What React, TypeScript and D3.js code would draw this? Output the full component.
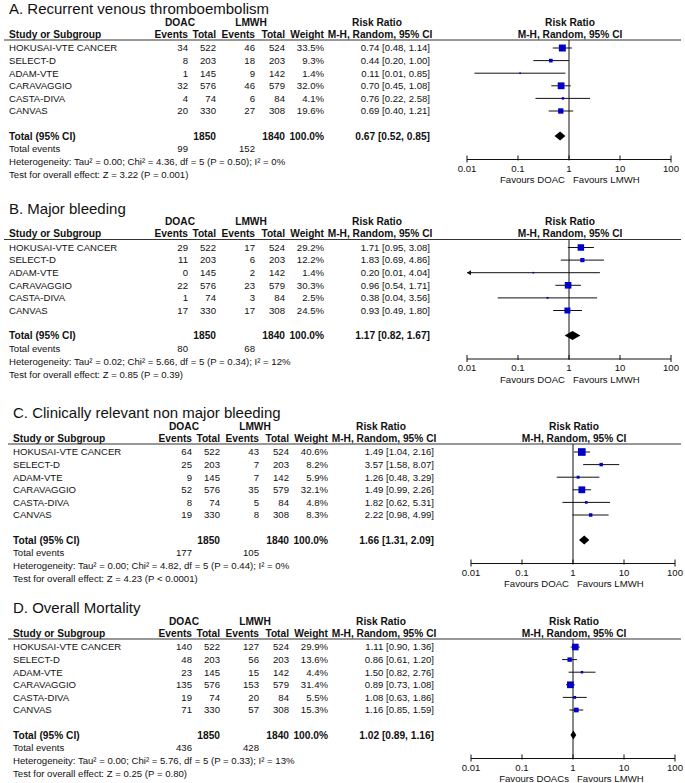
import React, { useRef, useEffect } from "react";
import * as d3 from "d3";

// shared study info
const studies = ["HOKUSAI-VTE CANCER", "SELECT-D", "ADAM-VTE", "CARAVAGGIO", "CASTA-DIVA", "CANVAS"];
const doacTotals = [522, 203, 145, 576, 74, 330];
const lmwhTotals = [524, 203, 142, 579, 84, 308];
const axisTicks = [0.01, 0.1, 1, 10, 100];
const totalWeightLabel = "100.0%";

// A. Recurrent VTE
const vteDoacEvents = [34, 8, 1, 32, 4, 20];
const vteLmwhEvents = [46, 18, 9, 46, 6, 27];
const vteWeights = [33.5, 9.3, 1.4, 32.0, 4.1, 19.6];
const vteRR = [0.74, 0.44, 0.11, 0.7, 0.76, 0.69];
const vteLo = [0.48, 0.2, 0.014, 0.45, 0.22, 0.4];
const vteHi = [1.14, 1.0, 0.85, 1.08, 2.58, 1.21];
const vtePooled = [0.67, 0.52, 0.85];
const vteEventTotals = [99, 152];

// B. Major bleeding
const mbDoacEvents = [29, 11, 0, 22, 1, 17];
const mbLmwhEvents = [17, 6, 2, 23, 3, 17];
const mbWeights = [29.2, 12.2, 1.4, 30.3, 2.5, 24.5];
const mbRR = [1.71, 1.83, 0.2, 0.96, 0.38, 0.93];
const mbLo = [0.95, 0.69, 0.0095, 0.54, 0.04, 0.49];
const mbHi = [3.08, 4.86, 4.04, 1.71, 3.56, 1.8];
const mbPooled = [1.17, 0.82, 1.67];
const mbEventTotals = [80, 68];

// C. CRNM bleeding
const crnmDoacEvents = [64, 25, 9, 52, 8, 19];
const crnmLmwhEvents = [43, 7, 7, 35, 5, 8];
const crnmWeights = [40.6, 8.2, 5.9, 32.1, 4.8, 8.3];
const crnmRR = [1.49, 3.57, 1.26, 1.49, 1.82, 2.22];
const crnmLo = [1.04, 1.58, 0.48, 0.99, 0.62, 0.98];
const crnmHi = [2.16, 8.07, 3.29, 2.26, 5.31, 4.99];
const crnmPooled = [1.66, 1.31, 2.09];
const crnmEventTotals = [177, 105];

// D. Overall mortality
const mortDoacEvents = [140, 48, 23, 135, 19, 71];
const mortLmwhEvents = [127, 56, 15, 153, 20, 57];
const mortWeights = [29.9, 13.6, 4.4, 31.4, 5.5, 15.3];
const mortRR = [1.11, 0.86, 1.5, 0.89, 1.08, 1.16];
const mortLo = [0.9, 0.61, 0.82, 0.73, 0.63, 0.85];
const mortHi = [1.36, 1.2, 2.76, 1.08, 1.86, 1.59];
const mortPooled = [1.02, 0.89, 1.16];
const mortEventTotals = [436, 428];

interface PanelSpec {
  title: string;
  doacEvents: number[];
  lmwhEvents: number[];
  weights: number[];
  rr: number[];
  lo: number[];
  hi: number[];
  pooled: number[];
  eventTotals: number[];
  heterogeneity: string;
  overall: string;
  favoursLeft: string;
  dx: number;
  dy: number;
}

const panels: PanelSpec[] = [
  {
    title: "A. Recurrent venous thromboembolism",
    doacEvents: vteDoacEvents, lmwhEvents: vteLmwhEvents, weights: vteWeights,
    rr: vteRR, lo: vteLo, hi: vteHi, pooled: vtePooled, eventTotals: vteEventTotals,
    heterogeneity: "Heterogeneity: Tau² = 0.00; Chi² = 4.36, df = 5 (P = 0.50); I² = 0%",
    overall: "Test for overall effect: Z = 3.22 (P = 0.001)",
    favoursLeft: "Favours DOAC", dx: 0, dy: 0,
  },
  {
    title: "B. Major bleeding",
    doacEvents: mbDoacEvents, lmwhEvents: mbLmwhEvents, weights: mbWeights,
    rr: mbRR, lo: mbLo, hi: mbHi, pooled: mbPooled, eventTotals: mbEventTotals,
    heterogeneity: "Heterogeneity: Tau² = 0.02; Chi² = 5.66, df = 5 (P = 0.34); I² = 12%",
    overall: "Test for overall effect: Z = 0.85 (P = 0.39)",
    favoursLeft: "Favours DOAC", dx: 0, dy: 199.5,
  },
  {
    title: "C. Clinically relevant non major bleeding",
    doacEvents: crnmDoacEvents, lmwhEvents: crnmLmwhEvents, weights: crnmWeights,
    rr: crnmRR, lo: crnmLo, hi: crnmHi, pooled: crnmPooled, eventTotals: crnmEventTotals,
    heterogeneity: "Heterogeneity: Tau² = 0.00; Chi² = 4.82, df = 5 (P = 0.44); I² = 0%",
    overall: "Test for overall effect: Z = 4.23 (P < 0.0001)",
    favoursLeft: "Favours DOAC", dx: 4, dy: 404,
  },
  {
    title: "D. Overall Mortality",
    doacEvents: mortDoacEvents, lmwhEvents: mortLmwhEvents, weights: mortWeights,
    rr: mortRR, lo: mortLo, hi: mortHi, pooled: mortPooled, eventTotals: mortEventTotals,
    heterogeneity: "Heterogeneity: Tau² = 0.00; Chi² = 5.76, df = 5 (P = 0.33); I² = 13%",
    overall: "Test for overall effect: Z = 0.25 (P = 0.80)",
    favoursLeft: "Favours DOACs", dx: 4, dy: 599,
  },
];

const FONT = "Liberation Sans, Arial, sans-serif";
const BLUE = "#0000c8";

const App: React.FC = () => {
  const svgRef = useRef<SVGSVGElement | null>(null);

  useEffect(() => {
    const svg = d3.select(svgRef.current);
    svg.selectAll("*").remove();

    // column positions (right edges)
    const col = { evD: 188, totD: 216, evL: 255, totL: 285, w: 324, ci: 430 };
    const fs = 9.6;
    const fsBold = 10.2;

    const x = d3.scaleLog().domain([0.01, 100]).range([467, 671]);
    const y = d3.scaleLinear().domain([0, 5]).range([48, 111]);
    const size = d3.scaleSqrt().domain([0, 40]).range([0, 7.6]);

    const lineY = 40;
    const totalY = 136;
    const axisY = 159.5;

    panels.forEach((p) => {
      const g = svg
        .append("g")
        .attr("transform", `translate(${p.dx},${p.dy})`)
        .attr("font-family", FONT)
        .attr("font-size", fs)
        .attr("fill", "#111");

      const txt = (
        tx: number,
        ty: number,
        s: string,
        anchor = "start",
        bold = false
      ) =>
        g.append("text")
          .attr("x", tx)
          .attr("y", ty)
          .attr("dy", "0.35em")
          .attr("text-anchor", anchor)
          .attr("font-weight", bold ? "bold" : "normal")
          .attr("font-size", bold ? fsBold : fs)
          .text(s);

      // title
      g.append("text")
        .attr("x", 9)
        .attr("y", 14)
        .attr("font-size", 15)
        .text(p.title);

      // group headers
      txt(180, 22, "DOAC", "middle", true);
      txt(251, 22, "LMWH", "middle", true);
      txt(377, 22, "Risk Ratio", "middle", true);
      txt(570, 22, "Risk Ratio", "middle", true);

      // column headers
      txt(9, 34, "Study or Subgroup", "start", true);
      txt(col.evD, 34, "Events", "end", true);
      txt(col.totD, 34, "Total", "end", true);
      txt(col.evL, 34, "Events", "end", true);
      txt(col.totL, 34, "Total", "end", true);
      txt(col.w, 34, "Weight", "end", true);
      txt(380, 34, "M-H, Random, 95% CI", "middle", true);
      txt(570, 34, "M-H, Random, 95% CI", "middle", true);

      g.append("line")
        .attr("x1", 4)
        .attr("x2", 681 - p.dx)
        .attr("y1", lineY)
        .attr("y2", lineY)
        .attr("stroke", "#333")
        .attr("stroke-width", 1);

      // reference line at RR = 1
      g.append("line")
        .attr("x1", x(1))
        .attr("x2", x(1))
        .attr("y1", lineY)
        .attr("y2", axisY)
        .attr("stroke", "#111")
        .attr("stroke-width", 1);

      // study rows
      studies.forEach((s, i) => {
        const ry = y(i);
        txt(9, ry, s);
        txt(col.evD, ry, String(p.doacEvents[i]), "end");
        txt(col.totD, ry, String(doacTotals[i]), "end");
        txt(col.evL, ry, String(p.lmwhEvents[i]), "end");
        txt(col.totL, ry, String(lmwhTotals[i]), "end");
        txt(col.w, ry, `${p.weights[i].toFixed(1)}%`, "end");
        txt(
          col.ci,
          ry,
          `${p.rr[i].toFixed(2)} [${p.lo[i].toFixed(2)}, ${p.hi[i].toFixed(2)}]`,
          "end"
        );

        // whisker
        const lo = Math.max(p.lo[i], 0.01);
        const hi = Math.min(p.hi[i], 100);
        g.append("line")
          .attr("x1", x(lo))
          .attr("x2", x(hi))
          .attr("y1", ry)
          .attr("y2", ry)
          .attr("stroke", "#111")
          .attr("stroke-width", 1);
        if (p.lo[i] < 0.01) {
          const ax = x(0.01);
          g.append("path")
            .attr("d", `M${ax},${ry} L${ax + 4},${ry - 2.5} L${ax + 4},${ry + 2.5} Z`)
            .attr("fill", "#111");
        }

        // square
        const sz = Math.max(size(p.weights[i]), 1.6);
        g.append("rect")
          .attr("x", x(p.rr[i]) - sz / 2)
          .attr("y", ry - sz / 2)
          .attr("width", sz)
          .attr("height", sz)
          .attr("fill", BLUE);
      });

      // totals
      txt(9, totalY, "Total (95% CI)", "start", true);
      txt(col.totD, totalY, String(d3.sum(doacTotals)), "end", true);
      txt(col.totL, totalY, String(d3.sum(lmwhTotals)), "end", true);
      txt(col.w, totalY, totalWeightLabel, "end", true);
      txt(
        col.ci,
        totalY,
        `${p.pooled[0].toFixed(2)} [${p.pooled[1].toFixed(2)}, ${p.pooled[2].toFixed(2)}]`,
        "end",
        true
      );

      // pooled diamond
      const [pm, pl, ph] = p.pooled;
      g.append("path")
        .attr(
          "d",
          `M${x(pl)},${totalY} L${x(pm)},${totalY - 4.5} L${x(ph)},${totalY} L${x(pm)},${totalY + 4.5} Z`
        )
        .attr("fill", "#000");

      txt(9, 149, "Total events");
      txt(col.evD, 149, String(p.eventTotals[0]), "end");
      txt(col.evL, 149, String(p.eventTotals[1]), "end");
      txt(9, 162, p.heterogeneity);
      txt(9, 175, p.overall);

      // axis
      const ax = g.append("g");
      ax.append("line")
        .attr("x1", x(0.01))
        .attr("x2", x(100))
        .attr("y1", axisY)
        .attr("y2", axisY)
        .attr("stroke", "#111");
      axisTicks.forEach((t, k) => {
        const end = k === 0 || k === axisTicks.length - 1;
        ax.append("line")
          .attr("x1", x(t))
          .attr("x2", x(t))
          .attr("y1", axisY - 4)
          .attr("y2", axisY + (end ? 3 : 1))
          .attr("stroke", "#111");
        ax.append("text")
          .attr("x", x(t))
          .attr("y", axisY + 9)
          .attr("dy", "0.35em")
          .attr("text-anchor", "middle")
          .text(String(t));
      });
      txt(x(1) - 4, 180, p.favoursLeft, "end");
      txt(x(1) + 4, 180, "Favours LMWH", "start");
    });
  }, []);

  return (
    <svg
      ref={svgRef}
      width={685}
      height={783}
      style={{ position: "absolute", left: 0, top: 0, background: "#fff" }}
    />
  );
};

export default App;
